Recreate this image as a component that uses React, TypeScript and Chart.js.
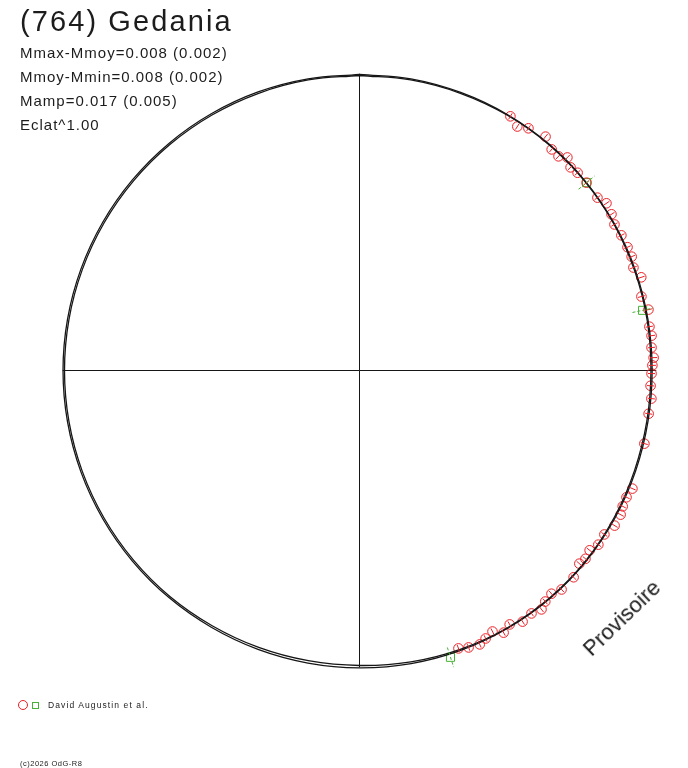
import { useEffect, useRef } from "react";
import { Chart, registerables } from "chart.js";

Chart.register(...registerables);

const W = 688;
const H = 768;
// centre of the polar diagram (px) and px per unit of relative brightness
const CX = 359.5;
const CY = 370.5;
const R_PX = 295;

// Observations: rotational phase (deg, clockwise from top) and relative brightness
const obsPhase = [
  30.7, 32.9, 34.9, 38.5, 41.0, 42.9, 44.3, 46.1, 47.8, 50.4, 54.0, 55.9, 58.2, 60.2,
  62.7, 65.3, 67.3, 69.4, 71.7, 75.3, 78.1, 81.4, 83.2, 85.5, 87.5, 89.0, 90.6, 93.0,
  95.5, 98.5, 104.4, 113.4, 115.4, 117.3, 118.9, 121.3, 123.8, 126.1, 128.0, 129.8,
  131.3, 134.0, 137.3, 139.3, 141.2, 142.7, 144.7, 147.0, 149.4, 151.2, 153.0, 154.8,
  156.3, 158.5, 160.4,
];
const obsFlux = [
  1.002, 0.985, 1.001, 1.013, 0.993, 0.991, 1.009, 0.993, 0.998, 0.999, 0.997, 1.011,
  1.005, 0.996, 0.999, 1.0, 1.0, 0.992, 1.006, 0.988, 1.001, 0.994, 0.997, 0.993, 0.998,
  0.993, 0.99, 0.988, 0.994, 0.991, 0.997, 1.008, 1.002, 1.004, 1.011, 1.012, 0.999,
  1.002, 0.99, 0.997, 0.992, 1.009, 1.01, 0.998, 1.005, 1.018, 1.009, 1.015, 1.0, 1.014,
  0.993, 1.004, 1.014, 1.009, 1.0,
];
const obsErr = 0.012;

// Session reference points (green squares)
const refPhase = [50.4, 78.0, 162.4];
const refFlux = [0.999, 0.981, 1.02];
const refErr = 0.035;

// Fitted light-curve model, two solutions, sampled every 10 deg
const modelPhase = [
  0, 10, 20, 30, 40, 50, 60, 70, 80, 90, 100, 110, 120, 130, 140, 150, 160, 170, 180,
  190, 200, 210, 220, 230, 240, 250, 260, 270, 280, 290, 300, 310, 320, 330, 340, 350,
];
const modelOuter = [
  1.004, 1.004, 1.003, 1.002, 1.001, 0.999, 0.997, 0.995, 0.993, 0.992, 0.993, 0.996,
  1.0, 1.004, 1.007, 1.008, 1.009, 1.009, 1.008, 1.007, 1.006, 1.005, 1.005, 1.005,
  1.005, 1.005, 1.005, 1.005, 1.005, 1.005, 1.005, 1.005, 1.005, 1.005, 1.005, 1.004,
];
const modelInner = [
  1.0, 1.0, 1.0, 1.0, 0.999, 0.997, 0.995, 0.992, 0.99, 0.988, 0.989, 0.992, 0.997,
  1.002, 1.005, 1.006, 1.005, 1.003, 1.0, 0.999, 0.999, 0.999, 1.0, 1.0, 1.0, 1.0, 1.0,
  1.0, 1.0, 1.0, 1.0, 1.0, 1.0, 1.0, 1.0, 1.0,
];

const AXIS_HALF = 1.006;

const statLines = [
  "Mmax-Mmoy=0.008 (0.002)",
  "Mmoy-Mmin=0.008 (0.002)",
  "Mamp=0.017 (0.005)",
  "Eclat^1.00",
];

const RED = "rgb(235,30,36)";
const GREEN = "rgb(70,178,52)";
const INK = "#161616";

function toXY(phaseDeg: number, r: number) {
  const a = (phaseDeg * Math.PI) / 180;
  return { x: r * Math.sin(a), y: r * Math.cos(a) };
}

function closedCurve(phases: number[], radii: number[]) {
  const pts = phases.map((p, i) => toXY(p, radii[i]));
  pts.push(pts[0]);
  return pts;
}

const errorBars = {
  id: "errorBars",
  afterDatasetsDraw(chart: any) {
    const { ctx } = chart;
    const xs = chart.scales.x;
    const ys = chart.scales.y;
    const draw = (
      phases: number[],
      fluxes: number[],
      err: number,
      color: string,
      dash: number[]
    ) => {
      ctx.save();
      ctx.strokeStyle = color;
      ctx.lineWidth = 1;
      ctx.setLineDash(dash);
      phases.forEach((p, i) => {
        const a = toXY(p, fluxes[i] - err);
        const b = toXY(p, fluxes[i] + err);
        ctx.beginPath();
        ctx.moveTo(xs.getPixelForValue(a.x), ys.getPixelForValue(a.y));
        ctx.lineTo(xs.getPixelForValue(b.x), ys.getPixelForValue(b.y));
        ctx.stroke();
      });
      ctx.restore();
    };
    draw(obsPhase, obsFlux, obsErr, RED, []);
    draw(refPhase, refFlux, refErr, GREEN, [3, 2]);
  },
};

function Label(props: {
  text: string;
  x: number;
  baseline: number;
  size: number;
  ls?: number;
  color?: string;
}) {
  const { text, x, baseline, size, ls = 0, color = "#1c1c1c" } = props;
  return (
    <div
      style={{
        position: "absolute",
        left: x,
        top: baseline - 0.8465 * size,
        fontSize: size,
        lineHeight: `${size}px`,
        letterSpacing: ls,
        whiteSpace: "nowrap",
        color,
      }}
    >
      {text}
    </div>
  );
}

export default function App() {
  const ref = useRef<HTMLCanvasElement>(null);

  useEffect(() => {
    if (!ref.current) return;
    const chart = new Chart(ref.current, {
      type: "scatter",
      data: {
        datasets: [
          {
            data: closedCurve(modelPhase, modelOuter),
            showLine: true,
            tension: 0.4,
            borderColor: INK,
            borderWidth: 1.3,
            pointRadius: 0,
            order: 0,
          },
          {
            data: closedCurve(modelPhase, modelInner),
            showLine: true,
            tension: 0.4,
            borderColor: INK,
            borderWidth: 1.3,
            pointRadius: 0,
            order: 0,
          },
          {
            data: obsPhase.map((p, i) => toXY(p, obsFlux[i])),
            pointStyle: "circle",
            pointRadius: 4.8,
            borderColor: RED,
            backgroundColor: "rgba(0,0,0,0)",
            borderWidth: 1,
            order: 1,
          },
          {
            data: refPhase.map((p, i) => toXY(p, refFlux[i])),
            pointStyle: "rect",
            pointRadius: 5.7,
            borderColor: GREEN,
            backgroundColor: "rgba(0,0,0,0)",
            borderWidth: 1,
            order: 1,
          },
          {
            data: [
              { x: -AXIS_HALF, y: 0 },
              { x: AXIS_HALF, y: 0 },
            ],
            showLine: true,
            borderColor: INK,
            borderWidth: 1,
            pointRadius: 0,
            order: 2,
          },
          {
            data: [
              { x: 0, y: -AXIS_HALF },
              { x: 0, y: AXIS_HALF },
            ],
            showLine: true,
            borderColor: INK,
            borderWidth: 1,
            pointRadius: 0,
            order: 2,
          },
        ],
      },
      options: {
        responsive: false,
        animation: false,
        devicePixelRatio: 1,
        layout: { padding: 0, autoPadding: false },
        events: [],
        plugins: {
          legend: { display: false },
          tooltip: { enabled: false },
          title: { display: false },
        },
        scales: {
          x: {
            type: "linear",
            display: false,
            min: -CX / R_PX,
            max: (W - CX) / R_PX,
          },
          y: {
            type: "linear",
            display: false,
            min: -(H - CY) / R_PX,
            max: CY / R_PX,
          },
        },
      },
      plugins: [errorBars],
    });
    return () => chart.destroy();
  }, []);

  return (
    <div
      style={{
        position: "fixed",
        left: 0,
        top: 0,
        width: W,
        height: H,
        background: "#fff",
        fontFamily: "'Liberation Sans', Arial, sans-serif",
        overflow: "hidden",
      }}
    >
      <canvas
        ref={ref}
        width={W}
        height={H}
        style={{ position: "absolute", left: 0, top: 0, width: W, height: H }}
      />
      <Label text="(764) Gedania" x={20} baseline={31.5} size={29} ls={2.1} />
      {statLines.map((t, i) => (
        <Label key={t} text={t} x={20} baseline={57.3 + i * 24} size={15} ls={1.0} />
      ))}
      <div
        style={{
          position: "absolute",
          left: 17.5,
          top: 699.5,
          width: 10,
          height: 10,
          boxSizing: "border-box",
          border: `1px solid ${RED}`,
          borderRadius: "50%",
        }}
      />
      <div
        style={{
          position: "absolute",
          left: 32,
          top: 701.5,
          width: 7,
          height: 7,
          boxSizing: "border-box",
          border: `1px solid ${GREEN}`,
        }}
      />
      <Label text="David Augustin et al." x={48} baseline={708.5} size={8.5} ls={1.1} />
      <Label text="(c)2026 OdG-R8" x={20} baseline={766} size={7.5} ls={0.5} />
      <div
        style={{
          position: "absolute",
          left: 592,
          top: 658 - 0.8465 * 22,
          fontSize: 22,
          lineHeight: "22px",
          whiteSpace: "nowrap",
          color: "#1c1c1c",
          transformOrigin: `0px ${0.8465 * 22}px`,
          transform: "rotate(-44deg)",
        }}
      >
        Provisoire
      </div>
    </div>
  );
}
